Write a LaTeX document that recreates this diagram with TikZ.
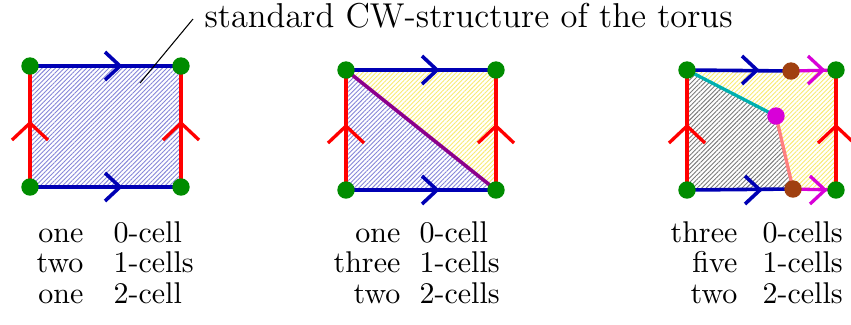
\documentclass[tikz,border=0pt]{standalone}
\usetikzlibrary{patterns.meta,backgrounds}
\definecolor{cwblue}{HTML}{0000B4}
\definecolor{cwred}{HTML}{FF0000}
\definecolor{cwgreen}{HTML}{008C00}
\definecolor{cwviolet}{HTML}{8C008C}
\definecolor{cwcyan}{HTML}{00B0B0}
\definecolor{cwsalmon}{HTML}{FF8080}
\definecolor{cwmag}{HTML}{D800D8}
\definecolor{cwbrown}{HTML}{A04010}
\definecolor{hblue}{HTML}{8585D8}
\definecolor{hyellow}{HTML}{F8EA70}
\definecolor{hgray}{HTML}{7A7A7A}
\begin{document}
\begin{tikzpicture}[x=0.3333pt,y=-0.3333pt,
  hatchblue/.style={pattern={Lines[angle=45,distance=1.05pt,line width=0.3pt]},pattern color=hblue},
  hatchyellow/.style={pattern={Lines[angle=45,distance=1.05pt,line width=0.3pt]},pattern color=hyellow},
  hatchgray/.style={pattern={Lines[angle=45,distance=1.05pt,line width=0.3pt]},pattern color=hgray},
  blueedge/.style={draw=cwblue,line width=1.2pt},
  rededge/.style={draw=cwred,line width=1.1pt},
  magedge/.style={draw=cwmag,line width=1.1pt},
  dot/.style={circle,inner sep=0pt,minimum size=5.8pt},
  lbl/.style={inner sep=0pt},
  hchev/.pic={\draw (-15,-14) -- (0,0) -- (-15,14);},
  vchev/.pic={\draw (-18,17) -- (0,0) -- (18,17);}]
\useasboundingbox (0,0) rectangle (851,324);

% title and leader
\node[lbl,anchor=base west,font=\fontsize{11.5}{14}\selectfont] (title) at (204,27) {standard CW-structure of the torus};
\coordinate (leadtop) at (193,19);
\coordinate (leadbot) at (140,83);
\draw[line width=0.35pt] (leadbot) -- (leadtop);

% ---------- panel 1 ----------
\node[dot,fill=cwgreen] (a1) at (30,66) {};
\node[dot,fill=cwgreen] (b1) at (181,66) {};
\node[dot,fill=cwgreen] (c1) at (30,187) {};
\node[dot,fill=cwgreen] (d1) at (181,187) {};
\begin{scope}[on background layer]
  \fill[hatchblue] (a1.center) -- (b1.center) -- (d1.center) -- (c1.center) -- cycle;
  \draw[blueedge] (a1.center) -- (b1.center);
  \draw[blueedge] (c1.center) -- (d1.center);
  \draw[rededge] (c1.center) -- (a1.center);
  \draw[rededge] (d1.center) -- (b1.center);
  \pic[cwblue,line width=1.2pt] at (120,66) {hchev};
  \pic[cwblue,line width=1.2pt] at (120,187) {hchev};
  \pic[cwred,line width=1.1pt] at (30,123) {vchev};
  \pic[cwred,line width=1.1pt] at (181,123) {vchev};
\end{scope}

% ---------- panel 2 ----------
\node[dot,fill=cwgreen] (a2) at (346,70) {};
\node[dot,fill=cwgreen] (b2) at (496,70) {};
\node[dot,fill=cwgreen] (c2) at (346,190) {};
\node[dot,fill=cwgreen] (d2) at (496,190) {};
\begin{scope}[on background layer]
  \fill[hatchblue] (a2.center) -- (d2.center) -- (c2.center) -- cycle;
  \fill[hatchyellow] (a2.center) -- (b2.center) -- (d2.center) -- cycle;
  \draw[blueedge] (a2.center) -- (b2.center);
  \draw[blueedge] (c2.center) -- (d2.center);
  \draw[rededge] (c2.center) -- (a2.center);
  \draw[rededge] (d2.center) -- (b2.center);
  \draw[draw=cwviolet,line width=1.2pt] (a2.center) -- (d2.center);
  \pic[cwblue,line width=1.2pt] at (437,70) {hchev};
  \pic[cwblue,line width=1.2pt] at (437,190) {hchev};
  \pic[cwred,line width=1.1pt] at (346,126) {vchev};
  \pic[cwred,line width=1.1pt] at (496,126) {vchev};
\end{scope}

% ---------- panel 3 ----------
\node[dot,fill=cwgreen] (a3) at (687,70) {};
\node[dot,fill=cwgreen] (b3) at (836,70) {};
\node[dot,fill=cwgreen] (c3) at (687,190) {};
\node[dot,fill=cwgreen] (d3) at (836,190) {};
\node[dot,fill=cwbrown] (p3) at (791,71) {};
\node[dot,fill=cwbrown] (q3) at (793,189) {};
\node[dot,fill=cwmag] (m3) at (776,116) {};
\begin{scope}[on background layer]
  \fill[hatchgray] (a3.center) -- (m3.center) -- (q3.center) -- (c3.center) -- cycle;
  \fill[hatchyellow] (a3.center) -- (p3.center) -- (b3.center) -- (d3.center) -- (q3.center) -- (m3.center) -- cycle;
  \draw[blueedge] (a3.center) -- (p3.center);
  \draw[magedge] (p3.center) -- (b3.center);
  \draw[blueedge] (c3.center) -- (q3.center);
  \draw[magedge] (q3.center) -- (d3.center);
  \draw[rededge] (c3.center) -- (a3.center);
  \draw[rededge] (d3.center) -- (b3.center);
  \draw[draw=cwcyan,line width=1.1pt] (a3.center) -- (m3.center);
  \draw[draw=cwsalmon,line width=1.1pt] (m3.center) -- (q3.center);
  \pic[cwblue,line width=1.2pt] at (757,70) {hchev};
  \pic[cwmag,line width=1.1pt] at (823,70) {hchev};
  \pic[cwblue,line width=1.2pt] at (760,190) {hchev};
  \pic[cwmag,line width=1.1pt] at (825,190) {hchev};
  \pic[cwred,line width=1.1pt] at (687,126) {vchev};
  \pic[cwred,line width=1.1pt] at (836,126) {vchev};
\end{scope}

% ---------- labels ----------
\node[lbl,anchor=base east] (n11) at (84,242) {one};
\node[lbl,anchor=base west] (k11) at (113,242) {0-cell};
\node[lbl,anchor=base east] (n12) at (84,272) {two};
\node[lbl,anchor=base west] (k12) at (113,272) {1-cells};
\node[lbl,anchor=base east] (n13) at (84,303) {one};
\node[lbl,anchor=base west] (k13) at (113,303) {2-cell};

\node[lbl,anchor=base east] (n21) at (401,242) {one};
\node[lbl,anchor=base west] (k21) at (419,242) {0-cell};
\node[lbl,anchor=base east] (n22) at (401,272) {three};
\node[lbl,anchor=base west] (k22) at (419,272) {1-cells};
\node[lbl,anchor=base east] (n23) at (401,303) {two};
\node[lbl,anchor=base west] (k23) at (419,303) {2-cells};

\node[lbl,anchor=base east] (n31) at (738,242) {three};
\node[lbl,anchor=base west] (k31) at (762,242) {0-cells};
\node[lbl,anchor=base east] (n32) at (738,272) {five};
\node[lbl,anchor=base west] (k32) at (762,272) {1-cells};
\node[lbl,anchor=base east] (n33) at (738,303) {two};
\node[lbl,anchor=base west] (k33) at (762,303) {2-cells};
\end{tikzpicture}
\end{document}
